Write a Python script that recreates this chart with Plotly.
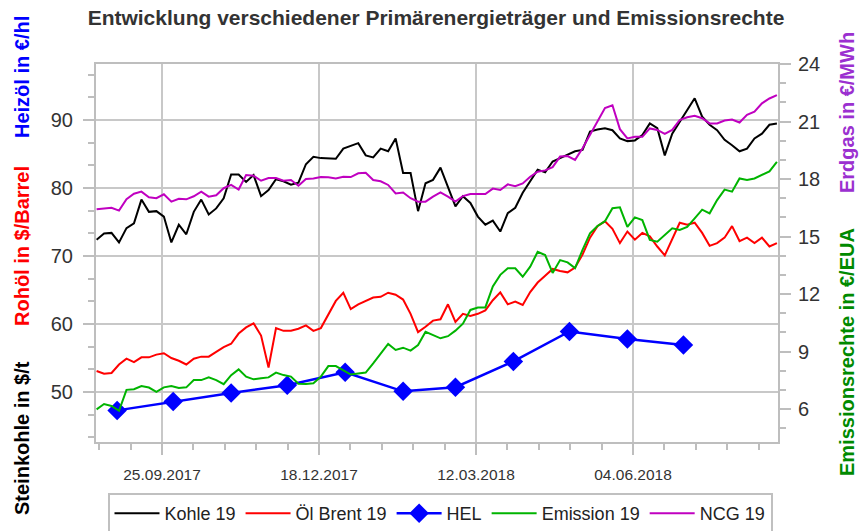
import plotly.graph_objects as go
import pandas as pd

# ---- data ----
dates = pd.date_range("2017-08-21", periods=92, freq="4D")

kohle = [72.4, 73.3, 73.4, 72.0, 74.1, 74.8, 78.3, 76.5, 76.6, 75.8,
         72.0, 74.6, 73.2, 76.5, 78.3, 76.1, 77.0, 78.5, 82.0, 82.0,
         80.9, 81.9, 78.8, 79.7, 81.3, 81.0, 80.5, 80.8, 83.5, 84.6,
         84.4, 84.4, 84.3, 85.8, 86.2, 86.6, 84.8, 84.5, 85.8, 85.4,
         87.3, 82.2, 82.2, 76.6, 80.7, 81.2, 83.0, 80.2, 77.3, 78.8,
         77.8, 75.8, 74.6, 75.2, 73.6, 76.3, 77.1, 79.3, 81.0, 82.7,
         82.3, 83.9, 84.4, 84.9, 85.4, 85.6, 88.3, 88.6, 88.8, 88.5,
         87.3, 86.9, 87.0, 87.8, 89.5, 88.8, 84.8, 88.0, 89.8, 91.5,
         93.2, 90.5, 89.3, 88.5, 87.1, 86.3, 85.4, 85.8, 87.3, 88.0,
         89.3, 89.5]

brent = [53.1, 52.7, 52.8, 54.05, 54.9, 54.4, 55.1, 55.1, 55.5, 55.7,
         55.0, 54.6, 54.05, 54.9, 55.2, 55.2, 55.9, 56.6, 57.1, 58.6,
         59.5, 60.1, 58.3, 53.6, 59.4, 59.0, 59.0, 59.3, 59.8, 59.0,
         59.4, 61.3, 63.4, 64.6, 62.2, 62.9, 63.4, 63.9, 64.0, 64.6,
         64.3, 63.6, 61.5, 58.8, 59.6, 60.5, 60.7, 62.9, 60.3, 61.5,
         61.2, 61.5, 62.0, 63.5, 64.65, 62.9, 63.3, 62.8, 64.7, 66.1,
         67.1, 68.1, 67.8, 67.6, 68.3, 70.2, 72.7, 74.4, 75.1, 74.0,
         71.9, 73.6, 72.4, 73.4, 72.9, 71.4, 70.1, 72.4, 74.9, 74.6,
         74.9, 73.4, 71.5, 71.9, 72.7, 74.4, 72.2, 72.7, 71.9, 72.7,
         71.4, 71.9]

emission = [5.98, 6.26, 6.16, 5.91, 7.0, 7.03, 7.2, 7.12, 6.9, 7.13,
            7.2, 7.1, 7.13, 7.51, 7.51, 7.65, 7.51, 7.3, 7.77, 8.07,
            7.69, 7.55, 7.6, 7.65, 7.9, 7.77, 7.69, 7.32, 7.3, 7.34,
            7.69, 8.24, 8.24, 8.03, 7.8, 7.85, 7.9, 8.38, 8.9, 9.4,
            9.08, 9.2, 9.05, 9.34, 10.03, 9.86, 9.69, 9.8, 10.09, 10.45,
            11.17, 11.3, 11.3, 12.4, 13.0, 13.35, 13.34, 12.9, 13.43, 14.2,
            14.03, 13.1, 13.77, 13.65, 13.35, 14.3, 15.17, 15.55, 15.8, 16.48,
            16.52, 15.5, 16.0, 15.86, 14.82, 14.73, 15.1, 15.43, 15.34, 15.5,
            15.95, 16.4, 16.21, 16.9, 17.45, 17.34, 18.03, 17.95, 18.03, 18.21,
            18.4, 18.9]

ncg = [16.42, 16.45, 16.5, 16.35, 16.95, 17.23, 17.34, 17.05, 17.0, 17.2,
       16.82, 16.97, 16.94, 17.1, 17.34, 17.08, 17.15, 17.52, 17.69, 17.45,
       18.21, 18.17, 17.91, 18.05, 18.05, 17.91, 17.95, 17.65, 18.0, 18.03,
       18.1, 18.09, 18.03, 18.12, 18.1, 18.3, 18.33, 17.95, 17.88, 17.69,
       17.25, 17.3, 17.0, 16.82, 16.82, 17.08, 17.3, 17.08, 16.82, 17.11,
       17.22, 17.22, 17.22, 17.5, 17.43, 17.72, 17.63, 17.77, 18.12, 18.38,
       18.45, 18.62, 19.17, 19.2, 19.0, 19.6, 20.3, 20.95, 21.7, 21.85,
       20.6, 20.12, 20.2, 20.2, 20.64, 20.56, 20.35, 20.56, 21.08, 21.22,
       21.3, 21.17, 20.9, 20.9, 21.05, 21.1, 20.95, 21.35, 21.51, 21.95,
       22.2, 22.38]

hel_dates = ["2017-09-01", "2017-10-01", "2017-11-01", "2017-12-01",
             "2018-01-01", "2018-02-01", "2018-03-01", "2018-04-01",
             "2018-05-01", "2018-06-01", "2018-07-01"]
hel = [47.3, 48.6, 49.85, 51.0, 52.9, 50.1, 50.7, 54.5, 58.9, 57.8, 56.9]

title_text = "Entwicklung verschiedener Primärenergieträger und Emissionsrechte"
x_tick0 = "2017-09-25"

# ---- styling ----
GRID = "#C8C8C8"
AXIS = "#BEBEBE"
TXT = "#333333"
FONT = "Liberation Sans, Arial, sans-serif"
DAY = 86400000

fig = go.Figure()
fig.add_trace(go.Scatter(x=dates, y=kohle, name="Kohle 19", mode="lines",
                         line=dict(color="#000000", width=2)))
fig.add_trace(go.Scatter(x=dates, y=brent, name="Öl Brent 19", mode="lines",
                         line=dict(color="#FF0000", width=2)))
fig.add_trace(go.Scatter(x=hel_dates, y=hel, name="HEL", mode="lines+markers",
                         line=dict(color="#0000FF", width=2.5),
                         marker=dict(symbol="diamond", size=15, color="#0000FF")))
fig.add_trace(go.Scatter(x=dates, y=emission, name="Emission 19", mode="lines",
                         yaxis="y2", line=dict(color="#00B400", width=2)))
fig.add_trace(go.Scatter(x=dates, y=ncg, name="NCG 19", mode="lines",
                         yaxis="y2", line=dict(color="#C000C0", width=2)))

common_y = dict(ticks="outside", ticklen=11, tickwidth=2, tickcolor=AXIS,
                showline=True, linecolor=AXIS, linewidth=2, zeroline=False,
                tickfont=dict(family=FONT, size=20, color=TXT))

fig.update_layout(
    width=861, height=531,
    margin=dict(l=96, r=83, t=64, b=89, autoexpand=False),
    paper_bgcolor="white", plot_bgcolor="white",
    showlegend=True,
    title=dict(text=title_text, x=436 / 861, xref="container", xanchor="center",
               y=1 - 18 / 531, yref="container", yanchor="middle",
               font=dict(family=FONT, size=21, color=TXT, weight="bold")),
    xaxis=dict(type="date", range=["2017-08-20 16:30", "2018-08-20 14:00"],
               tick0=x_tick0, dtick=84 * DAY, tickformat="%d.%m.%Y",
               ticks="outside", ticklen=11, tickwidth=2, tickcolor=AXIS,
               showline=True, linecolor=AXIS, linewidth=2, mirror=True,
               showgrid=True, gridcolor=GRID, gridwidth=2,
               minor=dict(ticks="outside", ticklen=6, tickwidth=2, tickcolor=AXIS,
                          tick0=x_tick0, dtick=16.8 * DAY, showgrid=False),
               ticklabelstandoff=6,
               tickfont=dict(family=FONT, size=15.5, color=TXT)),
    yaxis=dict(range=[42.65, 98.24], tick0=0, dtick=10,
               showgrid=True, gridcolor=GRID, gridwidth=2,
               minor=dict(ticks="outside", ticklen=6, tickwidth=2, tickcolor=AXIS,
                          tick0=0, dtick=10 / 3, showgrid=False),
               ticklabelstandoff=6, **common_y),
    yaxis2=dict(range=[4.28, 24], tick0=0, dtick=3, overlaying="y", side="right",
                showgrid=False,
                minor=dict(ticks="outside", ticklen=6, tickwidth=2, tickcolor=AXIS,
                           tick0=0, dtick=1, showgrid=False),
                ticklabelstandoff=3, **common_y),
    legend=dict(orientation="h", x=(440 - 96) / 682, xanchor="center",
                y=(442 - 493) / 378, yanchor="top", itemwidth=45,
                bordercolor="#C0C0C0", borderwidth=2, bgcolor="white",
                font=dict(family=FONT, size=18, color="#222222")),
)

def px_x(p):
    return (p - 96) / 682

def px_y(p):
    return (442 - p) / 378

axis_titles = [
    ("Heizöl in €/hl", "#0000FF", 22, 77),
    ("Rohöl in $/Barrel", "#FF0000", 22, 246),
    ("Steinkohle in $/t", "#000000", 22, 438),
    ("Erdgas in €/MWh", "#9B30D0", 847, 112),
    ("Emissionsrechte in €/EUA", "#008A00", 847, 352),
]
for text, color, xp, yp in axis_titles:
    fig.add_annotation(text=text, x=px_x(xp), y=px_y(yp), xref="paper", yref="paper",
                       xanchor="center", yanchor="middle", textangle=-90,
                       showarrow=False,
                       font=dict(family=FONT, size=20, color=color, weight="bold"))

fig.write_html("out.html", config={"displayModeBar": False},
               post_script="document.body.style.margin='0';")
